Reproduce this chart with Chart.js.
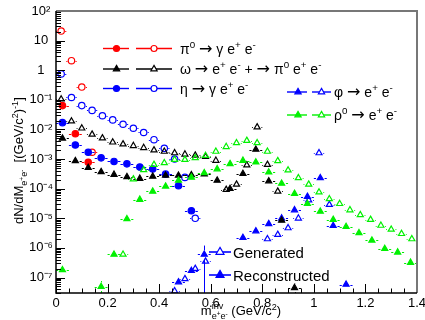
<!DOCTYPE html>
<html><head><meta charset="utf-8">
<script src="https://cdn.jsdelivr.net/npm/chart.js@4.4.1/dist/chart.umd.min.js"></script>
<style>html,body{margin:0;padding:0;background:#fff;overflow:hidden}#wrap{width:425px;height:320px}</style>
</head><body><div id="wrap"><canvas id="c" width="425" height="320"></canvas></div>
<script>
// ---- data (mass in GeV/c^2, dN/dM) ----
const pi0GenM = [0.02,0.06,0.10,0.14];
const pi0GenV = [21,2.1,0.27,1.7e-3];
const pi0RecM = [0.025,0.075,0.125];
const pi0RecV = [0.064,7.2e-3,7.8e-4];

const omegaGenM = [0.02,0.06,0.10,0.14,0.18,0.22,0.26,0.30,0.34,0.38,0.42,0.46,0.50,0.54,0.58,0.62,0.66,0.70,0.74,0.78,0.82,0.86];
const omegaGenV = [0.105,0.019,0.011,6.8e-3,5.1e-3,3.7e-3,3.2e-3,2.8e-3,2.4e-3,2.0e-3,1.8e-3,1.6e-3,1.45e-3,1.33e-3,1.2e-3,8.9e-4,9.3e-5,1.4e-4,6.2e-4,0.012,6.5e-4,8.1e-5];
const omegaRecM = [0.025,0.075,0.125,0.175,0.225,0.275,0.325,0.375,0.425,0.475,0.525,0.575,0.625,0.675,0.725,0.775,0.825,0.875,0.925];
const omegaRecV = [5e-3,8.7e-4,5.1e-4,3.7e-4,3.0e-4,2.5e-4,2.2e-4,2.6e-4,2.8e-4,2.8e-4,2.9e-4,3.1e-4,1.9e-4,1.0e-4,3.2e-4,2.1e-3,1.8e-4,8.5e-6,4.5e-8];

const etaGenM = [0.02,0.06,0.10,0.14,0.18,0.22,0.26,0.30,0.34,0.38,0.42,0.46,0.50,0.54];
const etaGenV = [0.75,0.12,0.064,0.044,0.029,0.021,0.015,0.011,7.9e-3,4.5e-3,2.3e-3,1.0e-3,2.4e-4,1.0e-5];
const etaRecM = [0.025,0.075,0.125,0.175,0.225,0.275,0.325,0.375,0.425,0.475,0.525];
const etaRecV = [0.017,3.0e-3,1.7e-3,1.1e-3,8.3e-4,6.9e-4,5.4e-4,4.6e-4,3.1e-4,1.26e-4,1.8e-5];

const phiGenM = [0.46,0.50,0.54,0.58,0.82,0.86,0.90,0.94,0.98,1.02,1.06];
const phiGenV = [3.5e-8,9e-8,2e-7,3.5e-7,2.0e-6,2.8e-6,4.7e-6,1.0e-5,4.1e-5,1.6e-3,2.9e-5];
const phiRecM = [0.475,0.525,0.575,0.725,0.775,0.825,0.875,0.925,0.975,1.025,1.075,1.125];
const phiRecV = [7e-8,1.7e-7,6e-7,2.2e-6,3.7e-6,6.5e-6,1e-5,1.9e-5,5.4e-5,2.3e-4,5.6e-6,5.8e-8];

const rhoGenM = [0.26,0.30,0.34,0.38,0.42,0.46,0.50,0.54,0.58,0.62,0.66,0.70,0.74,0.78,0.82,0.86,0.90,0.94,0.98,1.02,1.06,1.10,1.14,1.18,1.22,1.26,1.30,1.34,1.38];
const rhoGenV = [6e-7,2.1e-4,4.3e-4,6.5e-4,7.4e-4,9.5e-4,9.6e-4,1.1e-3,1.3e-3,1.8e-3,2.6e-3,3.5e-3,4.2e-3,3.5e-3,1.8e-3,8.7e-4,4.2e-4,2.3e-4,1.4e-4,7.6e-5,4.5e-5,3.1e-5,1.9e-5,1.3e-5,9e-6,5.7e-6,4.2e-6,3.0e-6,2.0e-6];
const rhoRecM = [0.025,0.175,0.225,0.275,0.325,0.375,0.425,0.475,0.525,0.575,0.625,0.675,0.725,0.775,0.825,0.875,0.925,0.975,1.025,1.075,1.125,1.175,1.225,1.275,1.325,1.375];
const rhoRecV = [1.8e-7,4.9e-8,6e-7,9.5e-6,4.3e-5,8.1e-5,1.2e-4,1.9e-4,2.4e-4,3.4e-4,4.6e-4,6.9e-4,8.9e-4,7.8e-4,3.6e-4,1.5e-4,6.8e-5,3.1e-5,1.7e-5,9e-6,5.2e-6,3.2e-6,1.8e-6,9.4e-7,7.1e-7,3.2e-7];

// bin half widths
const genHalfBin = 0.02;
const recHalfBin = 0.025;

// vertical error bars that are visible
const errSeries = ['phiRec','rhoRec','omegaRec'];
const errM  = [0.575,0.175,0.925];
const errLo = [1e-9,2e-8,2e-8];
const errHi = [1.2e-6,7.6e-8,6.2e-8];

// ticks
const xTickValues = [0,0.2,0.4,0.6,0.8,1.0,1.2,1.4];
const xTickLabels = ['0','0.2','0.4','0.6','0.8','1','1.2','1.4'];
const yTickValues = [1e-7,1e-6,1e-5,1e-4,1e-3,1e-2,1e-1,1,10,100];
const yTickLabels = ['10\u207B\u2077','10\u207B\u2076','10\u207B\u2075','10\u207B\u2074','10\u207B\u00B3','10\u207B\u00B2','10\u207B\u00B9','1','10','10\u00B2'];

const FAM = '"Liberation Sans", Arial, Helvetica, sans-serif';
const RED='#ff0000', BLK='#000000', BLU='#0000ff', GRN='#00f000';

function ds(label, M, V, color, style, filled, hw){
  return {
    label, hw,
    data: M.map((m,i)=>({x:m, y:V[i]})),
    showLine:false,
    pointStyle: style,
    pointRadius: style==='circle' ? 3.2 : 3.5,
    pointBorderColor: color,
    pointBackgroundColor: filled ? color : 'rgba(0,0,0,0)',
    pointBorderWidth: 1.2,
    pointHoverRadius: 0
  };
}

const datasets = [
  ds('rhoGen', rhoGenM, rhoGenV, GRN, 'triangle', false, genHalfBin),
  ds('rhoRec', rhoRecM, rhoRecV, GRN, 'triangle', true, recHalfBin),
  ds('omegaGen', omegaGenM, omegaGenV, BLK, 'triangle', false, genHalfBin),
  ds('omegaRec', omegaRecM, omegaRecV, BLK, 'triangle', true, recHalfBin),
  ds('phiGen', phiGenM, phiGenV, BLU, 'triangle', false, genHalfBin),
  ds('phiRec', phiRecM, phiRecV, BLU, 'triangle', true, recHalfBin),
  ds('etaGen', etaGenM, etaGenV, BLU, 'circle', false, genHalfBin),
  ds('etaRec', etaRecM, etaRecV, BLU, 'circle', true, recHalfBin),
  ds('pi0Gen', pi0GenM, pi0GenV, RED, 'circle', false, genHalfBin),
  ds('pi0Rec', pi0RecM, pi0RecV, RED, 'circle', true, recHalfBin)
];

// ---- helpers ----
function rich(ctx, segs, x, y, base, color, measureOnly){
  ctx.save();
  ctx.fillStyle = color || '#000';
  ctx.textAlign='left'; ctx.textBaseline='alphabetic';
  let cx = x, mark = x;
  for (const s of segs){
    const fs = base*(s.k||1);
    ctx.font = fs.toFixed(2)+'px '+(s.f||FAM);
    if (s.reset) cx = mark;
    if (s.mark) mark = cx;
    if (!measureOnly) ctx.fillText(s.t, cx, y + base*(s.dy||0));
    cx += ctx.measureText(s.t).width;
  }
  ctx.restore();
  return cx - x;
}
const SUP = t => ({t, k:0.7, dy:-0.42});
const ARR = {t:'\u2192', f:'"DejaVu Sans", sans-serif', k:1.15, dy:0.02};
const SP = {t:' '};
function marker(ctx, style, filled, color, x, y, r){
  ctx.save();
  ctx.strokeStyle=color; ctx.fillStyle=color; ctx.lineWidth=1.2;
  ctx.beginPath();
  if (style==='circle') ctx.arc(x,y,r,0,Math.PI*2);
  else { ctx.moveTo(x,y-r); ctx.lineTo(x+r*0.866,y+r*0.5); ctx.lineTo(x-r*0.866,y+r*0.5); ctx.closePath(); }
  if (filled) ctx.fill(); else { ctx.fillStyle='#fff'; ctx.fill(); }
  ctx.stroke();
  ctx.restore();
}
function hline(ctx,color,x1,x2,y,w){
  ctx.save(); ctx.strokeStyle=color; ctx.lineWidth=w||1.4;
  ctx.beginPath(); ctx.moveTo(x1,y); ctx.lineTo(x2,y); ctx.stroke(); ctx.restore();
}

// ---- plugins ----
const errBars = {
  id:'errBars',
  beforeDatasetsDraw(chart){
    const {ctx, chartArea:a, scales:{x,y}} = chart;
    ctx.save();
    ctx.beginPath(); ctx.rect(a.left,a.top,a.right-a.left,a.bottom-a.top); ctx.clip();
    ctx.lineWidth=1;
    chart.data.datasets.forEach((d,i)=>{
      const meta = chart.getDatasetMeta(i);
      ctx.strokeStyle = d.pointBorderColor;
      meta.data.forEach((el,j)=>{
        const m = d.data[j].x;
        const py = Math.round(el.y)+0.5;
        const l = x.getPixelForValue(m-d.hw), r = x.getPixelForValue(m+d.hw);
        const g = d.pointRadius + 0.8;
        ctx.beginPath();
        ctx.moveTo(l,py); ctx.lineTo(el.x-g,py);
        ctx.moveTo(el.x+g,py); ctx.lineTo(r,py);
        ctx.stroke();
      });
    });
    errSeries.forEach((name,k)=>{
      const i = chart.data.datasets.findIndex(d=>d.label===name);
      const d = chart.data.datasets[i];
      const j = d.data.findIndex(p=>Math.abs(p.x-errM[k])<1e-6);
      if (j<0) return;
      const el = chart.getDatasetMeta(i).data[j];
      const px = Math.round(el.x)+0.5;
      const yh = y.getPixelForValue(errHi[k]);
      const yl = y.getPixelForValue(errLo[k]);
      const g = d.pointRadius + 0.8;
      ctx.strokeStyle = d.pointBorderColor;
      ctx.beginPath();
      ctx.moveTo(px,yh); ctx.lineTo(px,el.y-g);
      ctx.moveTo(px,el.y+g); ctx.lineTo(px,yl);
      ctx.stroke();
    });
    ctx.restore();
  }
};

const frame = {
  id:'frame',
  afterDraw(chart){
    const {ctx, chartArea:a, scales:{x,y}} = chart;
    ctx.save();
    // inward ticks, y
    ctx.strokeStyle='#000'; ctx.lineWidth=1;
    ctx.beginPath();
    for (let e=-8; e<=2; e++){
      for (let k=1;k<=9;k++){
        const v = k*Math.pow(10,e);
        if (v < y.min*0.999 || v > y.max*1.001) continue;
        const py = Math.round(y.getPixelForValue(v))+0.5;
        const len = k===1 ? 9 : 5;
        ctx.moveTo(a.left, py); ctx.lineTo(a.left+len, py);
      }
    }
    // inward ticks, x
    for (let i=0;i<=28;i++){
      const v = i*0.05;
      const px = Math.round(x.getPixelForValue(v))+0.5;
      const len = (i%4===0) ? 9 : 4.5;
      ctx.moveTo(px, a.bottom); ctx.lineTo(px, a.bottom-len);
    }
    ctx.stroke();
    // frame
    ctx.strokeStyle='#777'; ctx.lineWidth=2;
    ctx.beginPath(); ctx.moveTo(a.left, a.top); ctx.lineTo(a.right, a.top); ctx.lineTo(a.right, a.bottom); ctx.stroke();
    ctx.strokeStyle='#000'; ctx.lineWidth=1.5;
    ctx.beginPath(); ctx.moveTo(a.left, a.top); ctx.lineTo(a.left, a.bottom); ctx.lineTo(a.right, a.bottom); ctx.stroke();
    ctx.restore();

    // ---- axis titles ----
    const xs = [
      {t:'m'},
      {t:'inv', k:0.7, dy:-0.45, mark:true},
      {t:'e', k:0.7, dy:0.3, reset:true},
      {t:'+', k:0.5, dy:0.05},
      {t:'e', k:0.7, dy:0.3},
      {t:'-', k:0.5, dy:0.05},
      {t:' (GeV/c'},
      SUP('2'),
      {t:')'}
    ];
    const xw = rich(ctx, xs, 0, 0, 13, '#000', true);
    rich(ctx, xs, 241 - xw/2, 315, 13, '#000');
    const ys = [
      {t:'dN/dM'},
      {t:'e', k:0.7, dy:0.3},
      {t:'+', k:0.5, dy:0.05},
      {t:'e', k:0.7, dy:0.3},
      {t:'-', k:0.5, dy:0.05},
      {t:'  [(GeV/c'},
      SUP('2'),
      {t:')'},
      SUP('-1'),
      {t:']'}
    ];
    ctx.save();
    ctx.translate(23, 224);
    ctx.rotate(-Math.PI/2);
    rich(ctx, ys, 0, 0, 13, '#000');
    ctx.restore();

    // ---- legend 1 ----
    const L1 = [
      {c:RED, s:'circle', y:48.5, txt:[{t:'\u03C0'},SUP('0'),SP,ARR,{t:' \u03B3 e'},SUP('+'),{t:' e'},SUP('-')]},
      {c:BLK, s:'triangle', y:69, txt:[{t:'\u03C9 '},ARR,{t:' e'},SUP('+'),{t:' e'},SUP('-'),{t:' + '},ARR,{t:' \u03C0'},SUP('0'),{t:' e'},SUP('+'),{t:' e'},SUP('-')]},
      {c:BLU, s:'circle', y:88.5, txt:[{t:'\u03B7 '},ARR,{t:' \u03B3 e'},SUP('+'),{t:' e'},SUP('-')]}
    ];
    L1.forEach(r=>{
      hline(ctx, r.c, 103, 129, r.y);
      marker(ctx, r.s, true, r.c, 116.5, r.y, r.s==='circle'?3:3.6);
      hline(ctx, r.c, 136, 172, r.y);
      marker(ctx, r.s, false, r.c, 154, r.y, r.s==='circle'?3:3.6);
      rich(ctx, r.txt, 180, r.y+5, 14, '#000');
    });
    // ---- legend 2 ----
    const L2 = [
      {c:BLU, y:92, txt:[{t:'\u03C6 '},ARR,{t:' e'},SUP('+'),{t:' e'},SUP('-')]},
      {c:GRN, y:115, txt:[{t:'\u03C1'},SUP('0'),SP,ARR,{t:' e'},SUP('+'),{t:' e'},SUP('-')]}
    ];
    L2.forEach(r=>{
      hline(ctx, r.c, 287, 307, r.y);
      marker(ctx, 'triangle', true, r.c, 298, r.y, 3.6);
      hline(ctx, r.c, 312, 331, r.y);
      marker(ctx, 'triangle', false, r.c, 321.5, r.y, 3.6);
      rich(ctx, r.txt, 334, r.y+5, 14, '#000');
    });
    // ---- legend 3 ----
    const L3 = [
      {filled:false, y:252, txt:'Generated'},
      {filled:true, y:275, txt:'Reconstructed'}
    ];
    L3.forEach(r=>{
      hline(ctx, BLU, 209, 231, r.y, 1.6);
      marker(ctx, 'triangle', r.filled, BLU, 220, r.y, 4.6);
      rich(ctx, [{t:r.txt}], 233, r.y+5.5, 15, '#000');
    });
  }
};

new Chart(document.getElementById('c'), {
  type:'scatter',
  data:{datasets},
  options:{
    responsive:false, animation:false, devicePixelRatio:1,
    layout:{padding:{left:0, top:11, right:8, bottom:0}},
    plugins:{legend:{display:false}, tooltip:{enabled:false}},
    scales:{
      x:{
        type:'linear', min:0, max:1.4,
        afterBuildTicks(s){ s.ticks = xTickValues.map(v=>({value:v})); },
        ticks:{ autoSkip:false, maxRotation:0, padding:3, color:'#000',
          font:{family:FAM, size:13},
          callback:(v)=>{ const i = xTickValues.findIndex(t=>Math.abs(t-v)<1e-9); return i>=0 ? xTickLabels[i] : ''; } },
        grid:{display:false, drawTicks:false},
        border:{display:false},
        afterFit(s){ s.height = 27; s.paddingLeft = 0; s.paddingRight = 0; }
      },
      y:{
        type:'logarithmic', min:3.2e-8, max:100,
        afterBuildTicks(s){ s.ticks = yTickValues.map(v=>({value:v})); },
        ticks:{ autoSkip:false, crossAlign:'center', padding:3, color:'#000',
          font:{family:FAM, size:13},
          callback:(v)=>{ const i = yTickValues.findIndex(t=>Math.abs(Math.log10(t)-Math.log10(v))<1e-6); return i>=0 ? yTickLabels[i] : ''; } },
        grid:{display:false, drawTicks:false},
        border:{display:false},
        afterFit(s){ s.width = 56; s.paddingTop = 0; s.paddingBottom = 0; }
      }
    }
  },
  plugins:[errBars, frame]
});
</script>
</body></html>
